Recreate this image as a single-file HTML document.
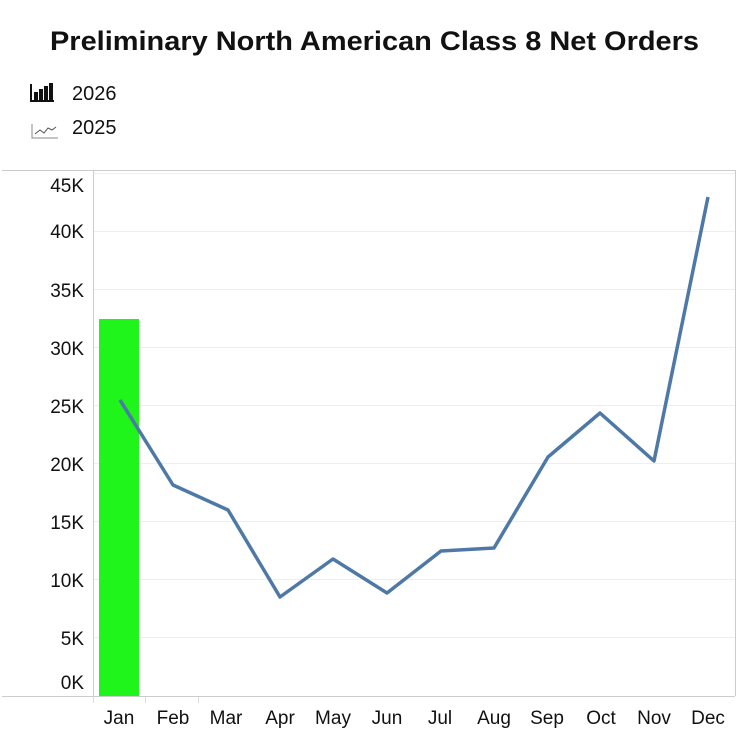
<!DOCTYPE html>
<html><head><style>
body{margin:0;background:#fff;font-family:"Liberation Sans",sans-serif;}
</style></head><body>
<svg width="749" height="749" xmlns="http://www.w3.org/2000/svg" font-family="Liberation Sans, sans-serif">
<text x="50" y="50" font-size="27" font-weight="bold" fill="#111" textLength="649" lengthAdjust="spacingAndGlyphs">Preliminary North American Class 8 Net Orders</text>
<g fill="#111">
<rect x="30" y="100" width="24" height="2"/><rect x="30" y="84" width="2" height="18"/>
<rect x="34" y="92" width="4" height="8"/><rect x="39" y="89" width="4" height="11"/><rect x="44" y="86" width="4" height="14"/><rect x="49" y="83" width="4" height="17"/>
</g>
<text x="72" y="100" font-size="20" fill="#111">2026</text>
<g stroke="#888" fill="none" stroke-width="1"><path d="M32 124 V138 H58"/><path d="M35 134 L40 130 L44 133 L48 128 L52 130 L56 127" stroke="#555"/></g>
<text x="72" y="134" font-size="20" fill="#111">2025</text>
<g stroke="#eee" stroke-width="1">
<line x1="93" x2="735" y1="173.5" y2="173.5"/><line x1="93" x2="735" y1="231.5" y2="231.5"/><line x1="93" x2="735" y1="289.5" y2="289.5"/><line x1="93" x2="735" y1="347.5" y2="347.5"/><line x1="93" x2="735" y1="405.5" y2="405.5"/><line x1="93" x2="735" y1="463.5" y2="463.5"/><line x1="93" x2="735" y1="521.5" y2="521.5"/><line x1="93" x2="735" y1="579.5" y2="579.5"/><line x1="93" x2="735" y1="637.5" y2="637.5"/>
</g>
<g stroke="#ccc" stroke-width="1" fill="none">
<line x1="2" x2="735" y1="170.5" y2="170.5"/><line x1="2" x2="735" y1="696.5" y2="696.5"/><line x1="93.5" x2="93.5" y1="170" y2="696"/><line x1="735.5" x2="735.5" y1="170" y2="696"/>
</g>
<g stroke="#ddd"><line x1="145.5" x2="145.5" y1="697" y2="703"/><line x1="198.5" x2="198.5" y1="697" y2="703"/><line x1="93.5" x2="93.5" y1="697" y2="703"/></g>
<g font-size="19" fill="#111" text-anchor="end">
<text x="84" y="192">45K</text><text x="84" y="238">40K</text><text x="84" y="297">35K</text><text x="84" y="355">30K</text><text x="84" y="413">25K</text><text x="84" y="471">20K</text><text x="84" y="529">15K</text><text x="84" y="587">10K</text><text x="84" y="645">5K</text><text x="84" y="689">0K</text>
</g>
<rect x="99" y="319" width="40" height="377" fill="#1ff51a"/>
<polyline fill="none" stroke="#4e79a7" stroke-width="3.5" stroke-linejoin="round" points="120,400 173,485 228,510 280,597 333,559 387,593 441,551 494,548 548,457 600,413 654,461 708,197"/>
<g font-size="19" fill="#111" text-anchor="middle">
<text x="119" y="724">Jan</text><text x="173" y="724">Feb</text><text x="226" y="724">Mar</text><text x="280" y="724">Apr</text><text x="333" y="724">May</text><text x="387" y="724">Jun</text><text x="440" y="724">Jul</text><text x="494" y="724">Aug</text><text x="547" y="724">Sep</text><text x="601" y="724">Oct</text><text x="654" y="724">Nov</text><text x="708" y="724">Dec</text>
</g>
</svg>
</body></html>
